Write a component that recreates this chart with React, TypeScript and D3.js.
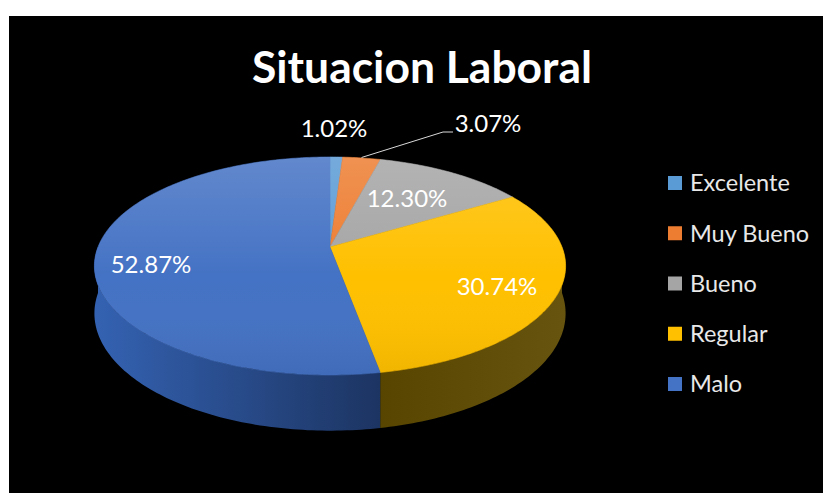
import React, { useEffect, useRef } from "react";
import * as d3 from "d3";

const categories = ["Excelente", "Muy Bueno", "Bueno", "Regular", "Malo"];
const percentages = [1.02, 3.07, 12.3, 30.74, 52.87];
const labels = ["1.02%", "3.07%", "12.30%", "30.74%", "52.87%"];
const colors = ["#5B9BD5", "#ED7D31", "#A5A5A5", "#FFC000", "#4472C4"];

const W = 823;
const H = 493;
const FONT = "Lato, 'Open Sans', sans-serif";

const App = () => {
  const ref = useRef<SVGSVGElement>(null);

  useEffect(() => {
    const svg = d3.select(ref.current);
    svg.selectAll("*").remove();

    // perspective disk: apex, half-width, depth scale
    const X0 = 330, Y0 = 247, A = 232, B = 105.7, K = 0.174, D = 46;
    const proj = (t: number, down = 0) => {
      const u = Math.sin(t), v = Math.cos(t);
      const den = 1 + K * v;
      return [X0 + (A * u) / den, Y0 - (B * v) / den + (down ? D / den : 0)];
    };
    const arcPts = (a0: number, a1: number, down = 0) => {
      const n = Math.max(2, Math.ceil(((a1 - a0) * 180) / Math.PI));
      return d3.range(n + 1).map(i => proj(a0 + ((a1 - a0) * i) / n, down));
    };

    const defs = svg.append("defs");
    const topGrad = defs.append("linearGradient").attr("id", "topShade")
      .attr("gradientUnits", "userSpaceOnUse").attr("x1", 0).attr("x2", 0).attr("y1", 157).attr("y2", 375);
    topGrad.append("stop").attr("offset", 0).attr("stop-color", "#fff").attr("stop-opacity", 0.16);
    topGrad.append("stop").attr("offset", 0.55).attr("stop-color", "#fff").attr("stop-opacity", 0);
    topGrad.append("stop").attr("offset", 1).attr("stop-color", "#000").attr("stop-opacity", 0.06);

    const wallColors: Record<string, [string, string]> = {
      Regular: ["#574500", "#67540f"],
      Malo: ["#3462b2", "#1c3462"],
    };

    svg.append("rect").attr("width", W).attr("height", H).attr("fill", "#fff");
    svg.append("rect").attr("x", 9).attr("y", 16).attr("width", W - 9).attr("height", H - 16).attr("fill", "#000");

    const pie = d3.pie<number>().sort(null).value(d => d);
    const arcs = pie(percentages);
    const line = d3.line();

    // front walls
    arcs.forEach((a, i) => {
      const s = Math.max(a.startAngle, Math.PI / 2);
      const e = Math.min(a.endAngle, (3 * Math.PI) / 2);
      if (e <= s) return;
      const top = arcPts(s, e);
      const bot = arcPts(s, e, 1).reverse();
      const wc = wallColors[categories[i]] || [colors[i], colors[i]];
      const xs = [...top, ...bot].map(p => p[0]);
      const g = defs.append("linearGradient").attr("id", `wall${i}`)
        .attr("gradientUnits", "userSpaceOnUse")
        .attr("x1", d3.min(xs)!).attr("x2", d3.max(xs)!).attr("y1", 0).attr("y2", 0);
      g.append("stop").attr("offset", 0).attr("stop-color", wc[0]);
      g.append("stop").attr("offset", 1).attr("stop-color", wc[1]);
      svg.append("path")
        .attr("d", line([...top, ...bot] as [number, number][]) + "Z")
        .attr("fill", `url(#wall${i})`);
    });

    // top face
    arcs.forEach((a, i) => {
      const pts = [[X0, Y0], ...arcPts(a.startAngle, a.endAngle)];
      svg.append("path")
        .attr("d", line(pts as [number, number][]) + "Z")
        .attr("fill", colors[i])
        .attr("stroke", colors[i])
        .attr("stroke-width", 0.6);
    });
    svg.append("path")
      .attr("d", line(arcPts(0, 2 * Math.PI) as [number, number][]) + "Z")
      .attr("fill", "url(#topShade)");

    // title
    svg.append("text")
      .attr("x", 422).attr("y", 83)
      .attr("text-anchor", "middle")
      .attr("font-family", FONT).attr("font-weight", 700).attr("font-size", 43)
      .attr("fill", "#fff")
      .attr("textLength", 340).attr("lengthAdjust", "spacingAndGlyphs")
      .text("Situacion Laboral");

    // data labels
    const labelPos = [[334, 128], [488, 123], [407, 198], [497, 286], [151, 264]];
    svg.append("path")
      .attr("d", "M361.5,157.5L443,132L453,132")
      .attr("fill", "none").attr("stroke", "#d9d9d9").attr("stroke-width", 1);
    labels.forEach((t, i) => {
      svg.append("text")
        .attr("x", labelPos[i][0]).attr("y", labelPos[i][1])
        .attr("dy", "0.36em")
        .attr("text-anchor", "middle")
        .attr("font-family", FONT).attr("font-size", 24)
        .attr("fill", "#fff")
        .text(t);
    });

    // legend
    const ly = d3.scalePoint<string>().domain(categories).range([183, 384]);
    const leg = svg.append("g").selectAll("g").data(categories).enter().append("g")
      .attr("transform", d => `translate(668,${ly(d)})`);
    leg.append("rect").attr("x", 0).attr("y", -7).attr("width", 14).attr("height", 14)
      .attr("fill", (d, i) => colors[i]);
    leg.append("text").attr("x", 22).attr("dy", "0.36em")
      .attr("font-family", FONT).attr("font-size", 23.5).attr("fill", "#e8e8e8")
      .text(d => d);
  }, []);

  return (
    <svg
      ref={ref}
      width={W}
      height={H}
      style={{ position: "absolute", left: 0, top: 0 }}
    ></svg>
  );
};

export default App;
